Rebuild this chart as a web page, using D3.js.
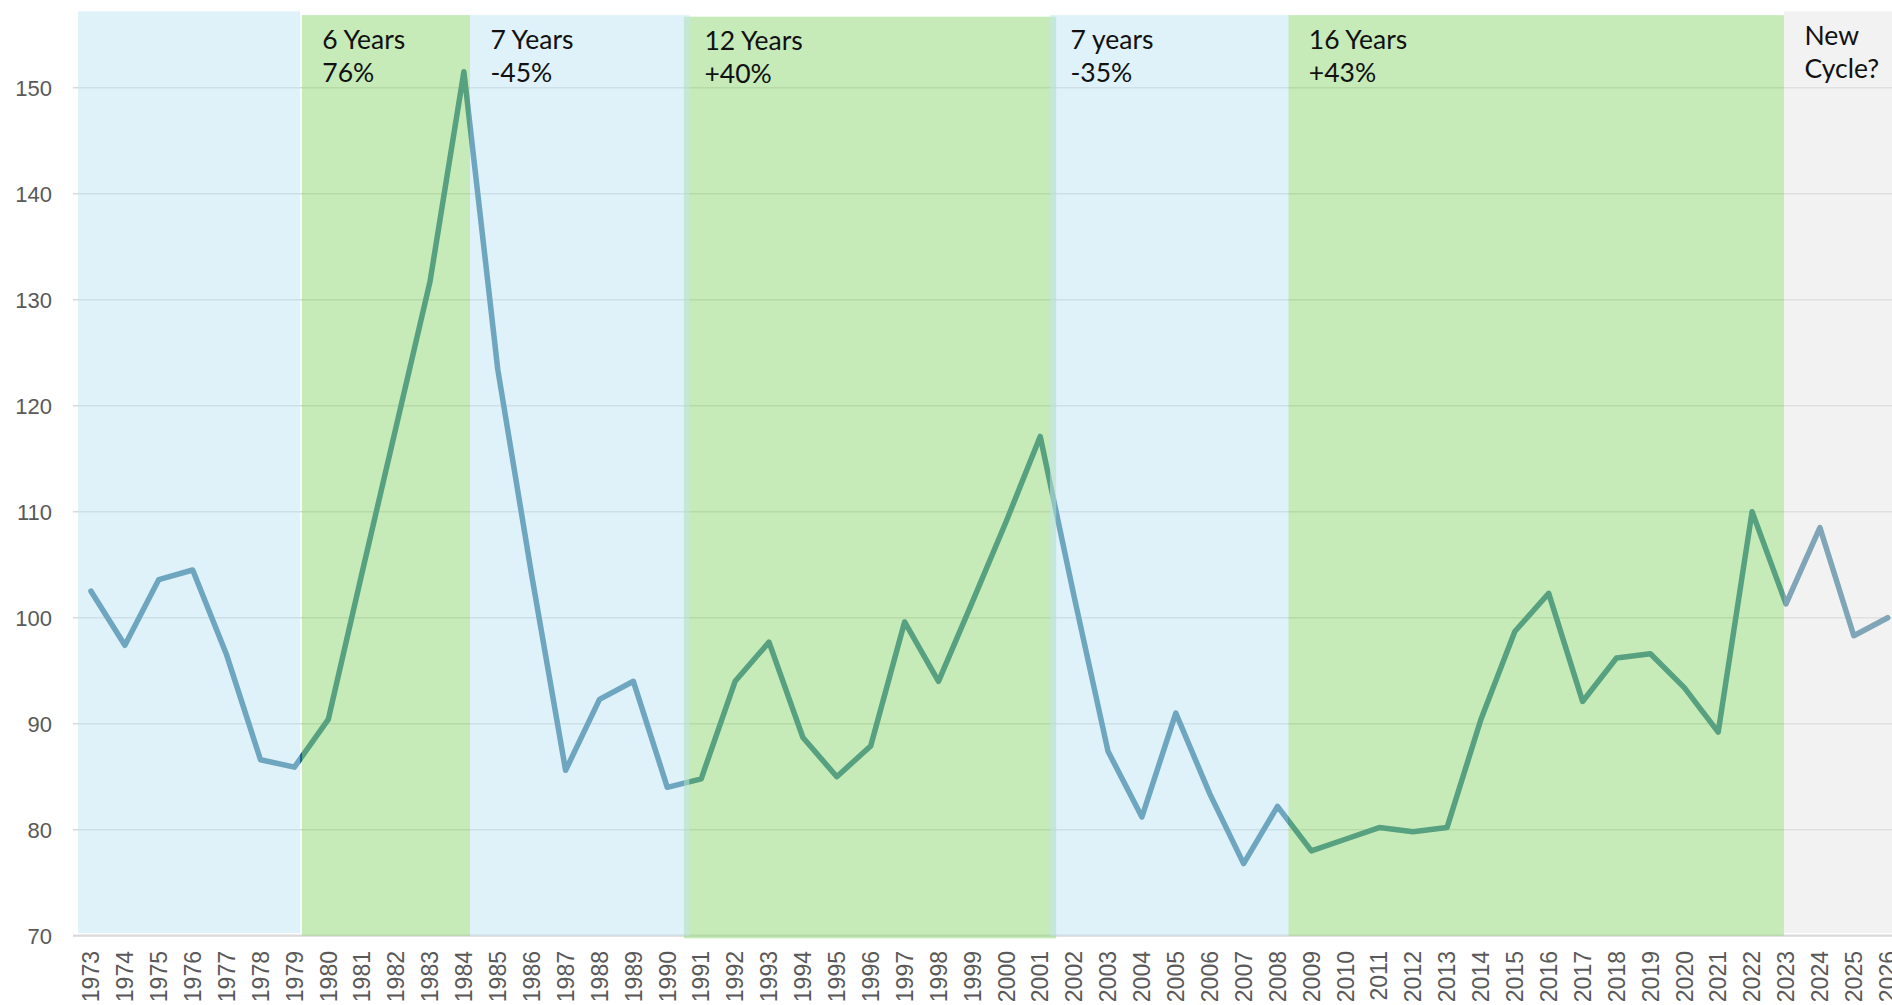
<!DOCTYPE html>
<html>
<head>
  <meta charset="utf-8">
  <script src="https://d3js.org/d3.v7.min.js"></script>
  <title>Cycles</title>
  <style>
    * {
      margin: 0;
      padding: 0;
    }
    body {
      background: #fff;
    }
    #chart {
      width: 1892px;
      height: 1005px;
      overflow: hidden;
    }
  </style>
</head>
<body>
<div id="chart"></div>

<script>
  // data
  var years = [1973,1974,1975,1976,1977,1978,1979,1980,1981,1982,1983,1984,1985,1986,1987,1988,1989,1990,
    1991,1992,1993,1994,1995,1996,1997,1998,1999,2000,2001,2002,2003,2004,2005,2006,2007,2008,2009,2010,
    2011,2012,2013,2014,2015,2016,2017,2018,2019,2020,2021,2022,2023,2024,2025,2026];

  var values = [102.5, 97.4, 103.6, 104.5, 96.5, 86.6, 85.9, 90.4, 104.3, 118.0,
    131.7, 151.5, 123.4, 104.0, 85.6, 92.3, 94.0, 84.0, 84.8, 94.0,
    97.7, 88.7, 85.0, 87.9, 99.6, 94.0, 101.5, 109.1, 117.1, 102.0,
    87.4, 81.2, 91.0, 83.4, 76.8, 82.2, 78.0, 79.1, 80.2, 79.8,
    80.2, 90.4, 98.7, 102.3, 92.1, 96.2, 96.6, 93.4, 89.2, 110.0,
    101.3, 108.5, 98.3, 100.0];

  var yTicks = [70, 80, 90, 100, 110, 120, 130, 140, 150];

  // the cycle periods (in years on the x scale, values on the y scale)
  var bandKind   = ['blue', 'green', 'blue', 'green', 'blue', 'green', 'gray'];
  var bandStart  = [1972.62, 1979.22, 1984.18, 1990.49, 2001.29, 2008.32, 2022.94];
  var bandEnd    = [1979.17, 1984.18, 1990.65, 2001.47, 2008.32, 2022.94, 2027.0];
  var bandTop    = [157.2, 156.85, 156.85, 156.7, 156.85, 156.85, 157.2];
  var bandBottom = [70.25, 70, 70, 69.75, 70, 70, 70.25];
  var bandLabel  = [[], ['6 Years', '76%'], ['7 Years', '-45%'], ['12 Years', '+40%'],
    ['7 years', '-35%'], ['16 Years', '+43%'], ['New', 'Cycle?']];

  var w = 1892;
  var h = 1005;

  var x = d3.scaleLinear()
    .domain([1972.5, 2026.5])
    .range([74.05, 74.05 + 54 * 33.9]);

  var y = d3.scaleLinear()
    .domain([70, 150])
    .range([935.7, 87.7]);

  var fills = {
    blue: 'rgba(195,229,244,0.535)',
    green: 'rgba(151,219,125,0.545)',
    gray: 'rgba(230,230,230,0.525)'
  };

  var svg = d3.select('#chart')
    .append('svg')
    .attr('width', w)
    .attr('height', h);

  svg.append('rect')
    .attr('width', w)
    .attr('height', h)
    .attr('fill', '#fff');

  // gridlines + base axis line
  svg.selectAll('line.grid')
    .data(yTicks)
    .enter()
    .append('line')
    .attr('class', 'grid')
    .attr('x1', 73)
    .attr('x2', w)
    .attr('y1', function(d) { return y(d); })
    .attr('y2', function(d) { return y(d); })
    .attr('stroke', '#d9d9d9')
    .attr('stroke-width', function(d) { return d === 70 ? 2.2 : 1.4; });

  // the series line
  var line = d3.line()
    .x(function(d, i) { return x(years[i]); })
    .y(function(d) { return y(d); });

  svg.append('path')
    .datum(values)
    .attr('d', line)
    .attr('fill', 'none')
    .attr('stroke', '#0d5d84')
    .attr('stroke-width', 5.5)
    .attr('stroke-linejoin', 'round')
    .attr('stroke-linecap', 'round');

  // translucent bands laid over the line; green first, blue and gray on top
  var order = [1, 3, 5, 0, 2, 4, 6];
  svg.selectAll('rect.band')
    .data(order)
    .enter()
    .append('rect')
    .attr('class', 'band')
    .attr('x', function(i) { return x(bandStart[i]); })
    .attr('width', function(i) { return x(bandEnd[i]) - x(bandStart[i]); })
    .attr('y', function(i) { return y(bandTop[i]); })
    .attr('height', function(i) { return y(bandBottom[i]) - y(bandTop[i]); })
    .attr('fill', function(i) { return fills[bandKind[i]]; });

  // period labels
  bandLabel.forEach(function(lines, i) {
    lines.forEach(function(txt, j) {
      svg.append('text')
        .attr('x', x(bandStart[i]) + 20.5)
        .attr('y', y(bandTop[i]) + 33.5 + j * 33.3)
        .attr('font-family', 'Lato, "Open Sans", sans-serif')
        .attr('font-size', '26.5px')
        .attr('fill', '#111')
        .text(txt);
    });
  });

  // y axis labels
  svg.selectAll('text.ytick')
    .data(yTicks)
    .enter()
    .append('text')
    .attr('class', 'ytick')
    .attr('x', 52)
    .attr('y', function(d) { return y(d); })
    .attr('dy', '0.36em')
    .attr('text-anchor', 'end')
    .attr('font-family', '"Liberation Sans", Arial, sans-serif')
    .attr('font-size', '22px')
    .attr('fill', '#595959')
    .text(function(d) { return d; });

  // x axis labels, rotated
  svg.selectAll('text.xtick')
    .data(years)
    .enter()
    .append('text')
    .attr('class', 'xtick')
    .attr('transform', function(d) { return 'translate(' + x(d) + ',951) rotate(-90)'; })
    .attr('dy', '0.36em')
    .attr('text-anchor', 'end')
    .attr('font-family', '"Liberation Sans", Arial, sans-serif')
    .attr('font-size', '23px')
    .attr('fill', '#595959')
    .text(function(d) { return d; });
</script>
</body>
</html>
